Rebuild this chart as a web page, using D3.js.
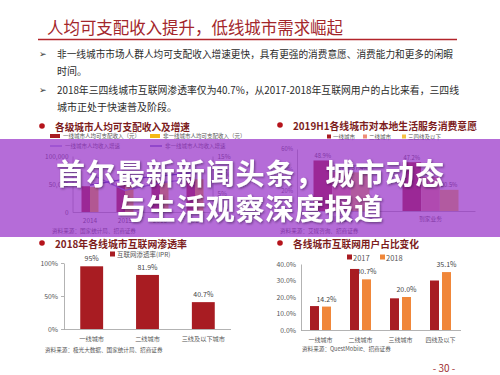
<!DOCTYPE html>
<html><head><meta charset="utf-8">
<script src="https://cdn.jsdelivr.net/npm/d3@7"></script>
<style>
body{margin:0;background:#fff;}
svg{display:block;}
text{font-family:"Noto Sans CJK SC","Noto Sans",sans-serif;}
</style>
</head><body>
<svg id="c" width="500" height="375"></svg>
<script>
// ---------- DATA ----------
const pageTitle = "人均可支配收入提升，低线城市需求崛起";
const bulletTexts = [
  "非一线城市市场人群人均可支配收入增速更快，具有更强的消费意愿、消费能力和更多的闲暇",
  "时间。",
  "2018年三四线城市互联网渗透率仅为40.7%，从2017-2018年互联网用户的占比来看，三四线",
  "城市正处于快速普及阶段。"
];
const bannerLines = ["首尔最新新闻头条，城市动态", "与生活观察深度报道"];

// Chart 1: income
const incomeTitle = "各级城市人均可支配收入及增速";
const incomeYears = ["2014", "2015", "2016", "2017"];
const incomeTier1 = [46000, 51500, 57000, 62000];
const incomeOther = [44500, 49000, 54000, 58500];
const growthTier1 = [10.2, 5.8, 7.8, 9.0];
const growthOther = [7.2, 8.8, 9.6, 10.6];
const incomeTicks = [0, 50000, 100000];
const growthTicks = [0, 5, 10, 15];
const incomeLegend = ["一线城市人均可支配收入（元）", "非一线城市人均可支配收入（元）"];
const growthLegend = ["一线城市人均收入增速", "非一线城市人均收入增速"];
const incomeSource = "资料来源：国家统计局、招商证券";

// Chart 2: local services
const serviceTitle = "2019H1各线城市对本地生活服务消费意愿";
const serviceCats = ["到店业务", "到家业务"];
const serviceSeries = ["一线城市", "二线城市", "三四线及以下"];
const serviceTier1 = [48.9, 47.2];
const serviceTier2 = [37.7, 32.9];
const serviceTier34 = [37.4, 20.5];
const serviceTicks = [0, 20, 40, 60];
const serviceSource = "资料来源：艾媒咨询、招商证券";

// Chart 3: IPR
const iprTitle = "2018年各线城市互联网渗透率";
const iprCats = ["一线城市", "二线城市", "三线及以下城市"];
const iprValues = [95, 81.9, 40.7];
const iprTicks = [0, 50, 100];
const iprLegend = "互联网渗透率(IPR)";
const iprSource = "资料来源：极光大数据、国家统计局、招商证券";

// Chart 4: internet users share
const usersTitle = "各线城市互联网用户占比变化";
const usersCats = ["一线城市", "二线城市", "三线城市", "四线及以下"];
const usersYears = ["2017", "2018"];
const users2017 = [14.5, 37.0, 19.2, 30.0];
const users2018 = [14.2, 30.7, 20.0, 35.1];
const usersTicks = [0, 10, 20, 30, 40];
const usersSource = "资料来源：QuestMobile、招商证券";

const pageNumber = "- 30 -";

// ---------- DRAW ----------
const svg = d3.select("#c");
const defs = svg.append("defs");
const f = defs.append("filter").attr("id", "sh").attr("x", "-10%").attr("y", "-30%").attr("width", "120%").attr("height", "160%");
f.append("feDropShadow").attr("dx", 1).attr("dy", 1.2).attr("stdDeviation", 1.2).attr("flood-color", "#2a0a3a").attr("flood-opacity", 0.55);

const RED = "#a81c22";
const AXIS = "#a0a0a0";
const LBL = "#555";

// title
svg.append("text").attr("x", 47).attr("y", 27).attr("dominant-baseline", "central")
  .attr("font-size", 16.5).attr("fill", "#a3262b").attr("textLength", 296).attr("lengthAdjust", "spacingAndGlyphs")
  .text(pageTitle);
svg.append("line").attr("x1", 38).attr("x2", 457).attr("y1", 39.5).attr("y2", 39.5)
  .attr("stroke", "#b3242b").attr("stroke-width", 1.4);

// bullets
const bulletY = [53, 70, 89, 106];
const bulletLen = [396, null, 402, null];
[0, 2].forEach(i => {
  svg.append("text").attr("x", 39).attr("y", bulletY[i]).attr("dominant-baseline", "central")
    .attr("font-size", 9).attr("fill", "#333").attr("font-family", "DejaVu Sans").text("➢");
});
bulletTexts.forEach((t, i) => {
  const tx = svg.append("text").attr("x", 57).attr("y", bulletY[i]).attr("dominant-baseline", "central")
    .attr("font-size", 10).attr("fill", "#2b2b2b").text(t);
  if (bulletLen[i]) tx.attr("textLength", bulletLen[i]).attr("lengthAdjust", "spacingAndGlyphs");
});

function heading(x, y, text, len) {
  svg.append("circle").attr("cx", x).attr("cy", y).attr("r", 2.8).attr("fill", "#b5141b");
  svg.append("text").attr("x", x + 13).attr("y", y).attr("dominant-baseline", "central")
    .attr("font-size", 10).attr("font-weight", "bold").attr("fill", "#7d1d1d")
    .attr("textLength", len).attr("lengthAdjust", "spacingAndGlyphs").text(text);
}
function source(x, y, text) {
  svg.append("text").attr("x", x).attr("y", y).attr("dominant-baseline", "central")
    .attr("font-size", 5.6).attr("fill", LBL).text(text);
}
function styleAxis(g, fs) {
  g.selectAll(".domain").attr("stroke", AXIS).attr("stroke-width", 0.8);
  g.selectAll(".tick line").attr("stroke", AXIS).attr("stroke-width", 0.8);
  g.selectAll("text").attr("font-size", fs).attr("fill", LBL)
    .attr("font-family", "'Noto Sans CJK SC','Noto Sans',sans-serif");
}
const pct1 = d => (d % 1 === 0 ? d : d.toFixed(1)) + "%";

// ----- Chart 1: income -----
heading(42, 126, incomeTitle, 135);
{
  const lg = svg.append("g");
  lg.append("rect").attr("x", 50).attr("y", 134).attr("width", 10).attr("height", 4).attr("fill", RED);
  lg.append("text").attr("x", 63).attr("y", 136).attr("dominant-baseline", "central").attr("font-size", 5.5).attr("fill", LBL).text(incomeLegend[0]);
  lg.append("rect").attr("x", 150).attr("y", 134).attr("width", 10).attr("height", 4).attr("fill", "#f5b915");
  lg.append("text").attr("x", 163).attr("y", 136).attr("dominant-baseline", "central").attr("font-size", 5.5).attr("fill", LBL).text(incomeLegend[1]);
  lg.append("line").attr("x1", 50).attr("x2", 62).attr("y1", 146).attr("y2", 146).attr("stroke", "#8b7fe0").attr("stroke-width", 1.2);
  lg.append("text").attr("x", 65).attr("y", 146).attr("dominant-baseline", "central").attr("font-size", 5.5).attr("fill", LBL).text(growthLegend[0]);
  lg.append("line").attr("x1", 150).attr("x2", 162).attr("y1", 146).attr("y2", 146).attr("stroke", "#3d2fb5").attr("stroke-width", 1.2);
  lg.append("text").attr("x", 165).attr("y", 146).attr("dominant-baseline", "central").attr("font-size", 5.5).attr("fill", LBL).text(growthLegend[1]);

  const x = d3.scaleBand().domain(incomeYears).range([72.5, 212.5]);
  const xs = d3.scaleBand().domain(["t1", "ot"]).range([0, 17]);
  const y = d3.scaleLinear().domain([0, 100000]).range([212, 156]);
  const yr = d3.scaleLinear().domain([0, 15]).range([212, 156]);
  const off = (x.bandwidth() - 17) / 2;
  const rows = incomeYears.map((yv, i) => ({ year: yv, t1: incomeTier1[i], ot: incomeOther[i] }));
  svg.append("g").selectAll("rect").data(rows).join("rect")
    .attr("x", d => x(d.year) + off + xs("t1")).attr("width", xs.bandwidth())
    .attr("y", d => y(d.t1)).attr("height", d => y(0) - y(d.t1)).attr("fill", RED);
  svg.append("g").selectAll("rect").data(rows).join("rect")
    .attr("x", d => x(d.year) + off + xs("ot")).attr("width", xs.bandwidth())
    .attr("y", d => y(d.ot)).attr("height", d => y(0) - y(d.ot)).attr("fill", "#f5b915");
  const line = d3.line().x((d, i) => x(incomeYears[i]) + x.bandwidth() / 2).y(d => yr(d));
  svg.append("path").datum(growthTier1).attr("d", line).attr("fill", "none").attr("stroke", "#8b7fe0").attr("stroke-width", 1.3);
  svg.append("path").datum(growthOther).attr("d", line).attr("fill", "none").attr("stroke", "#3d2fb5").attr("stroke-width", 1.3);

  const gl = svg.append("g").attr("transform", "translate(72.5,0)")
    .call(d3.axisLeft(y).tickValues(incomeTicks).tickSize(0).tickPadding(4).tickSizeOuter(0));
  styleAxis(gl, 6.5);
  const gr = svg.append("g").attr("transform", "translate(212.5,0)")
    .call(d3.axisRight(yr).tickValues(growthTicks).tickFormat(d => d + "%").tickSize(0).tickPadding(5).tickSizeOuter(0));
  styleAxis(gr, 6.5);
  const gb = svg.append("g").attr("transform", "translate(0,212)")
    .call(d3.axisBottom(x).tickSize(0).tickPadding(6).tickSizeOuter(0));
  styleAxis(gb, 6.5);
  source(52, 231, incomeSource);
}

// ----- Chart 2: local services -----
heading(280, 125, serviceTitle, 184);
{
  const colors = [RED, "#ee8d78", "#f6c143"];
  const lx = [327, 363, 402];
  serviceSeries.forEach((s, i) => {
    svg.append("rect").attr("x", lx[i]).attr("y", 134.5).attr("width", 4).attr("height", 4).attr("fill", colors[i]);
    svg.append("text").attr("x", lx[i] + 6).attr("y", 136.5).attr("dominant-baseline", "central").attr("font-size", 5.5).attr("fill", LBL).text(s);
  });
  const x = d3.scaleBand().domain(serviceCats).range([297, 475]);
  const xs = d3.scaleBand().domain(serviceSeries).range([0, 56]);
  const y = d3.scaleLinear().domain([0, 60]).range([211, 149]);
  const off = (x.bandwidth() - 56) / 2;
  const seriesVals = [serviceTier1, serviceTier2, serviceTier34];
  serviceSeries.forEach((s, si) => {
    const g = svg.append("g");
    g.selectAll("rect").data(serviceCats).join("rect")
      .attr("x", c => x(c) + off + xs(s)).attr("width", xs.bandwidth())
      .attr("y", (c, ci) => y(seriesVals[si][ci])).attr("height", (c, ci) => y(0) - y(seriesVals[si][ci]))
      .attr("fill", colors[si]);
    g.selectAll("text").data(serviceCats).join("text")
      .attr("x", c => x(c) + off + xs(s) + xs.bandwidth() / 2).attr("y", (c, ci) => y(seriesVals[si][ci]) - 5)
      .attr("text-anchor", "middle").attr("dominant-baseline", "central").attr("font-size", 5.8).attr("fill", "#444")
      .text((c, ci) => pct1(seriesVals[si][ci]));
  });
  const gl = svg.append("g").attr("transform", "translate(297,0)")
    .call(d3.axisLeft(y).tickValues(serviceTicks).tickFormat(d => d + "%").tickSize(0).tickPadding(4).tickSizeOuter(0));
  styleAxis(gl, 5.8);
  const gb = svg.append("g").attr("transform", "translate(0,211)")
    .call(d3.axisBottom(x).tickSize(0).tickPadding(6).tickSizeOuter(0));
  styleAxis(gb, 5.8);
  source(280, 231, serviceSource);
}

// ----- Chart 3: IPR -----
heading(42, 243, iprTitle, 132);
{
  svg.append("rect").attr("x", 110).attr("y", 251.5).attr("width", 5).attr("height", 5).attr("fill", RED);
  svg.append("text").attr("x", 117).attr("y", 254).attr("dominant-baseline", "central").attr("font-size", 6.5).attr("fill", LBL).text(iprLegend);
  const x = d3.scaleBand().domain(iprCats).range([63.5, 231.5]).paddingInner(0.59).paddingOuter(0.3);
  const y = d3.scaleLinear().domain([0, 100]).range([329, 263]);
  svg.append("g").selectAll("rect").data(iprCats).join("rect")
    .attr("x", c => x(c)).attr("width", x.bandwidth())
    .attr("y", (c, i) => y(iprValues[i])).attr("height", (c, i) => y(0) - y(iprValues[i])).attr("fill", RED);
  svg.append("g").selectAll("text").data(iprCats).join("text")
    .attr("x", c => x(c) + x.bandwidth() / 2).attr("y", (c, i) => y(iprValues[i]) - 8)
    .attr("text-anchor", "middle").attr("dominant-baseline", "central").attr("font-size", 7).attr("fill", "#444")
    .text((c, i) => pct1(iprValues[i]));
  const gl = svg.append("g").attr("transform", "translate(64,0)")
    .call(d3.axisLeft(y).tickValues(iprTicks).tickFormat(d => d + "%").tickSize(3).tickPadding(3).tickSizeOuter(0));
  styleAxis(gl, 6.8);
  const gb = svg.append("g").attr("transform", "translate(0,329)")
    .call(d3.axisBottom(x).tickSize(0).tickPadding(8).tickSizeOuter(0));
  gb.select(".domain").attr("d", "M64,0.5H231");
  styleAxis(gb, 6.2);
  source(45, 350, iprSource);
}

// ----- Chart 4: users -----
heading(280, 243, usersTitle, 126);
{
  const colors = { "2017": RED, "2018": "#f0873a" };
  const lx = [347, 380];
  usersYears.forEach((yv, i) => {
    svg.append("rect").attr("x", lx[i]).attr("y", 254.5).attr("width", 5).attr("height", 5).attr("fill", colors[yv]);
    svg.append("text").attr("x", lx[i] + 6).attr("y", 257).attr("dominant-baseline", "central").attr("font-size", 7.5).attr("fill", LBL).text(yv);
  });
  const x = d3.scaleBand().domain(usersCats).range([300.5, 460.5]);
  const xs = d3.scaleBand().domain(usersYears).range([0, 21]).paddingInner(0.25);
  const y = d3.scaleLinear().domain([0, 40]).range([330, 264]);
  const off = (x.bandwidth() - 21) / 2;
  // value labels (2018) drawn first, bars on top
  svg.append("g").selectAll("text").data(usersCats).join("text")
    .attr("x", c => x(c) + off + xs("2018") + xs.bandwidth() / 2).attr("y", (c, i) => y(users2018[i]) - 8)
    .attr("text-anchor", "middle").attr("dominant-baseline", "central").attr("font-size", 7).attr("fill", "#444")
    .text((c, i) => users2018[i].toFixed(1) + "%");
  const vals = { "2017": users2017, "2018": users2018 };
  usersYears.forEach(yv => {
    svg.append("g").selectAll("rect").data(usersCats).join("rect")
      .attr("x", c => x(c) + off + xs(yv)).attr("width", xs.bandwidth())
      .attr("y", (c, i) => y(vals[yv][i])).attr("height", (c, i) => y(0) - y(vals[yv][i])).attr("fill", colors[yv]);
  });
  const gl = svg.append("g").attr("transform", "translate(301,0)")
    .call(d3.axisLeft(y).tickValues(usersTicks).tickFormat(d => d.toFixed(1) + "%").tickSize(0).tickPadding(5).tickSizeOuter(0));
  styleAxis(gl, 6.8);
  const gb = svg.append("g").attr("transform", "translate(0,330)")
    .call(d3.axisBottom(x).tickSize(0).tickPadding(8).tickSizeOuter(0));
  styleAxis(gb, 6);
  source(302, 349, usersSource);
}

svg.append("text").attr("x", 444).attr("y", 367).attr("text-anchor", "middle").attr("dominant-baseline", "central")
  .attr("font-size", 10).attr("fill", "#a03030").text(pageNumber);

// ----- Banner overlay -----
svg.append("rect").attr("x", 0).attr("y", 139).attr("width", 500).attr("height", 98)
  .attr("fill", "rgb(150,45,200)").attr("fill-opacity", 0.7);
const bannerY = [172, 207];
const bannerLen = [388, 266];
bannerLines.forEach((t, i) => {
  svg.append("text").attr("x", 250).attr("y", bannerY[i]).attr("text-anchor", "middle").attr("dominant-baseline", "central")
    .attr("font-size", 29).attr("font-weight", "bold").attr("fill", "#fff").attr("filter", "url(#sh)")
    .attr("textLength", bannerLen[i]).attr("lengthAdjust", "spacing").text(t);
});
</script>
</body></html>
